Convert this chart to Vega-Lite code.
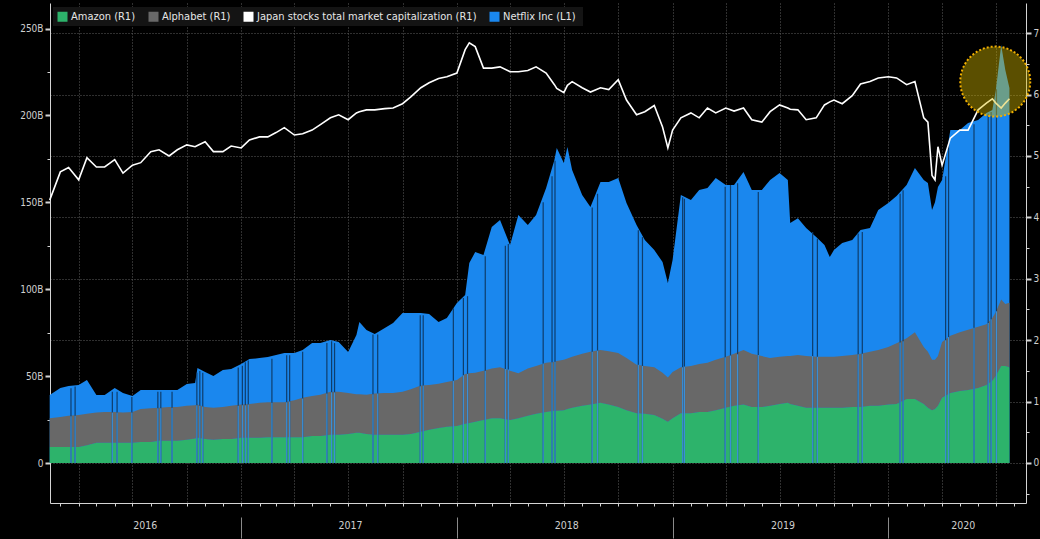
{
  "$schema": "https://vega.github.io/schema/vega-lite/v6.json",
  "width": 976,
  "height": 500,
  "autosize": {"type": "none"},
  "padding": {"left": 50, "top": 3, "right": 14, "bottom": 36},
  "background": "#000000",
  "config": {
    "view": {"stroke": null},
    "font": "DejaVu Sans Condensed",
    "axis": {
      "labelFont": "DejaVu Sans Condensed",
      "labelFontSize": 10,
      "labelColor": "#cfcfcf",
      "domainColor": "#d4d4d4",
      "tickColor": "#d4d4d4",
      "gridColor": "#5e5e5e",
      "gridDash": [1, 2],
      "gridWidth": 1
    },
    "legend": {
      "orient": "none",
      "legendX": 3,
      "legendY": 4,
      "direction": "horizontal",
      "fillColor": "#141414",
      "padding": 4,
      "labelFont": "DejaVu Sans Condensed",
      "labelFontSize": 11,
      "labelColor": "#e6e6e6",
      "labelLimit": 0,
      "symbolType": "square",
      "symbolSize": 100,
      "symbolStrokeWidth": 0,
      "columnPadding": 12,
      "labelOffset": 3,
      "title": null
    }
  },
  "datasets": {
    "series": [
      {"date": "2016-02-12", "netflix": 39.1, "amazon": 0.26, "alphabet": 0.47, "japan": 4.28},
      {"date": "2016-03-01", "netflix": 43.2, "amazon": 0.26, "alphabet": 0.49, "japan": 4.74},
      {"date": "2016-03-15", "netflix": 44.3, "amazon": 0.26, "alphabet": 0.51, "japan": 4.81},
      {"date": "2016-04-01", "netflix": 44.9, "amazon": 0.26, "alphabet": 0.52, "japan": 4.61},
      {"date": "2016-04-15", "netflix": 47.8, "amazon": 0.29, "alphabet": 0.51, "japan": 4.97},
      {"date": "2016-05-01", "netflix": 39.1, "amazon": 0.33, "alphabet": 0.49, "japan": 4.82},
      {"date": "2016-05-15", "netflix": 39.1, "amazon": 0.33, "alphabet": 0.50, "japan": 4.82},
      {"date": "2016-06-01", "netflix": 43.2, "amazon": 0.33, "alphabet": 0.50, "japan": 4.94},
      {"date": "2016-06-15", "netflix": 40.3, "amazon": 0.33, "alphabet": 0.49, "japan": 4.72},
      {"date": "2016-07-01", "netflix": 38.5, "amazon": 0.33, "alphabet": 0.50, "japan": 4.85},
      {"date": "2016-07-15", "netflix": 42.0, "amazon": 0.34, "alphabet": 0.54, "japan": 4.89},
      {"date": "2016-08-01", "netflix": 42.0, "amazon": 0.34, "alphabet": 0.55, "japan": 5.07},
      {"date": "2016-08-15", "netflix": 42.0, "amazon": 0.36, "alphabet": 0.54, "japan": 5.10},
      {"date": "2016-09-01", "netflix": 42.0, "amazon": 0.36, "alphabet": 0.55, "japan": 5.00},
      {"date": "2016-09-15", "netflix": 42.0, "amazon": 0.36, "alphabet": 0.55, "japan": 5.10},
      {"date": "2016-10-01", "netflix": 45.5, "amazon": 0.38, "alphabet": 0.55, "japan": 5.18},
      {"date": "2016-10-15", "netflix": 46.0, "amazon": 0.40, "alphabet": 0.54, "japan": 5.15},
      {"date": "2016-10-19", "netflix": 54.7, "amazon": 0.41, "alphabet": 0.54, "japan": 5.17},
      {"date": "2016-11-01", "netflix": 52.4, "amazon": 0.39, "alphabet": 0.52, "japan": 5.23},
      {"date": "2016-11-15", "netflix": 50.1, "amazon": 0.38, "alphabet": 0.52, "japan": 5.07},
      {"date": "2016-12-01", "netflix": 53.5, "amazon": 0.39, "alphabet": 0.52, "japan": 5.07},
      {"date": "2016-12-15", "netflix": 54.1, "amazon": 0.39, "alphabet": 0.54, "japan": 5.16},
      {"date": "2017-01-01", "netflix": 57.0, "amazon": 0.41, "alphabet": 0.54, "japan": 5.13},
      {"date": "2017-01-15", "netflix": 59.8, "amazon": 0.41, "alphabet": 0.55, "japan": 5.26},
      {"date": "2017-02-01", "netflix": 60.4, "amazon": 0.41, "alphabet": 0.57, "japan": 5.31},
      {"date": "2017-02-15", "netflix": 61.0, "amazon": 0.42, "alphabet": 0.57, "japan": 5.31},
      {"date": "2017-03-01", "netflix": 62.1, "amazon": 0.42, "alphabet": 0.57, "japan": 5.38},
      {"date": "2017-03-15", "netflix": 63.3, "amazon": 0.42, "alphabet": 0.57, "japan": 5.46},
      {"date": "2017-04-01", "netflix": 63.3, "amazon": 0.42, "alphabet": 0.60, "japan": 5.34},
      {"date": "2017-04-15", "netflix": 65.0, "amazon": 0.42, "alphabet": 0.64, "japan": 5.36},
      {"date": "2017-05-01", "netflix": 69.0, "amazon": 0.44, "alphabet": 0.65, "japan": 5.42},
      {"date": "2017-05-15", "netflix": 69.0, "amazon": 0.44, "alphabet": 0.67, "japan": 5.51},
      {"date": "2017-06-01", "netflix": 70.8, "amazon": 0.46, "alphabet": 0.70, "japan": 5.62},
      {"date": "2017-06-15", "netflix": 69.6, "amazon": 0.46, "alphabet": 0.70, "japan": 5.67},
      {"date": "2017-07-01", "netflix": 63.9, "amazon": 0.47, "alphabet": 0.67, "japan": 5.59},
      {"date": "2017-07-15", "netflix": 73.6, "amazon": 0.49, "alphabet": 0.63, "japan": 5.70},
      {"date": "2017-07-20", "netflix": 81.1, "amazon": 0.49, "alphabet": 0.63, "japan": 5.72},
      {"date": "2017-08-01", "netflix": 76.5, "amazon": 0.47, "alphabet": 0.64, "japan": 5.75},
      {"date": "2017-08-15", "netflix": 74.2, "amazon": 0.46, "alphabet": 0.67, "japan": 5.75},
      {"date": "2017-09-01", "netflix": 77.7, "amazon": 0.46, "alphabet": 0.68, "japan": 5.77},
      {"date": "2017-09-15", "netflix": 80.6, "amazon": 0.46, "alphabet": 0.68, "japan": 5.78},
      {"date": "2017-10-01", "netflix": 86.3, "amazon": 0.46, "alphabet": 0.70, "japan": 5.85},
      {"date": "2017-10-15", "netflix": 86.3, "amazon": 0.47, "alphabet": 0.73, "japan": 5.96},
      {"date": "2017-11-01", "netflix": 86.3, "amazon": 0.51, "alphabet": 0.75, "japan": 6.11},
      {"date": "2017-11-15", "netflix": 85.7, "amazon": 0.54, "alphabet": 0.73, "japan": 6.19},
      {"date": "2017-12-01", "netflix": 81.1, "amazon": 0.57, "alphabet": 0.72, "japan": 6.26},
      {"date": "2017-12-15", "netflix": 83.4, "amazon": 0.59, "alphabet": 0.73, "japan": 6.29},
      {"date": "2018-01-01", "netflix": 92.1, "amazon": 0.60, "alphabet": 0.75, "japan": 6.35},
      {"date": "2018-01-15", "netflix": 96.7, "amazon": 0.64, "alphabet": 0.81, "japan": 6.73},
      {"date": "2018-01-22", "netflix": 115.1, "amazon": 0.65, "alphabet": 0.81, "japan": 6.84},
      {"date": "2018-02-01", "netflix": 121.4, "amazon": 0.67, "alphabet": 0.80, "japan": 6.78},
      {"date": "2018-02-15", "netflix": 119.7, "amazon": 0.70, "alphabet": 0.80, "japan": 6.43},
      {"date": "2018-03-01", "netflix": 135.8, "amazon": 0.73, "alphabet": 0.81, "japan": 6.43},
      {"date": "2018-03-15", "netflix": 139.8, "amazon": 0.73, "alphabet": 0.83, "japan": 6.45},
      {"date": "2018-04-01", "netflix": 125.4, "amazon": 0.70, "alphabet": 0.80, "japan": 6.37},
      {"date": "2018-04-15", "netflix": 142.7, "amazon": 0.73, "alphabet": 0.73, "japan": 6.37},
      {"date": "2018-05-01", "netflix": 136.9, "amazon": 0.77, "alphabet": 0.77, "japan": 6.39},
      {"date": "2018-05-15", "netflix": 142.7, "amazon": 0.80, "alphabet": 0.78, "japan": 6.45},
      {"date": "2018-06-01", "netflix": 158.2, "amazon": 0.83, "alphabet": 0.80, "japan": 6.35},
      {"date": "2018-06-15", "netflix": 174.3, "amazon": 0.85, "alphabet": 0.80, "japan": 6.16},
      {"date": "2018-06-19", "netflix": 181.2, "amazon": 0.85, "alphabet": 0.81, "japan": 6.10},
      {"date": "2018-07-01", "netflix": 172.6, "amazon": 0.86, "alphabet": 0.82, "japan": 6.03},
      {"date": "2018-07-07", "netflix": 181.8, "amazon": 0.88, "alphabet": 0.82, "japan": 6.15},
      {"date": "2018-07-15", "netflix": 168.6, "amazon": 0.90, "alphabet": 0.83, "japan": 6.21},
      {"date": "2018-08-01", "netflix": 154.2, "amazon": 0.93, "alphabet": 0.85, "japan": 6.11},
      {"date": "2018-08-15", "netflix": 147.3, "amazon": 0.95, "alphabet": 0.86, "japan": 6.04},
      {"date": "2018-09-01", "netflix": 161.7, "amazon": 0.98, "alphabet": 0.86, "japan": 6.11},
      {"date": "2018-09-15", "netflix": 161.7, "amazon": 0.95, "alphabet": 0.87, "japan": 6.08},
      {"date": "2018-10-01", "netflix": 164.0, "amazon": 0.91, "alphabet": 0.88, "japan": 6.24},
      {"date": "2018-10-15", "netflix": 149.6, "amazon": 0.86, "alphabet": 0.85, "japan": 5.91},
      {"date": "2018-11-01", "netflix": 136.9, "amazon": 0.81, "alphabet": 0.79, "japan": 5.67},
      {"date": "2018-11-15", "netflix": 128.3, "amazon": 0.80, "alphabet": 0.78, "japan": 5.72},
      {"date": "2018-12-01", "netflix": 122.6, "amazon": 0.78, "alphabet": 0.78, "japan": 5.82},
      {"date": "2018-12-15", "netflix": 115.6, "amazon": 0.72, "alphabet": 0.75, "japan": 5.47},
      {"date": "2018-12-24", "netflix": 103.6, "amazon": 0.67, "alphabet": 0.72, "japan": 5.13},
      {"date": "2019-01-01", "netflix": 116.8, "amazon": 0.73, "alphabet": 0.75, "japan": 5.42},
      {"date": "2019-01-15", "netflix": 154.2, "amazon": 0.81, "alphabet": 0.75, "japan": 5.62},
      {"date": "2019-02-01", "netflix": 151.3, "amazon": 0.81, "alphabet": 0.77, "japan": 5.70},
      {"date": "2019-02-15", "netflix": 157.1, "amazon": 0.83, "alphabet": 0.78, "japan": 5.62},
      {"date": "2019-03-01", "netflix": 158.2, "amazon": 0.83, "alphabet": 0.80, "japan": 5.78},
      {"date": "2019-03-15", "netflix": 164.0, "amazon": 0.86, "alphabet": 0.82, "japan": 5.70},
      {"date": "2019-04-01", "netflix": 160.0, "amazon": 0.90, "alphabet": 0.83, "japan": 5.78},
      {"date": "2019-04-15", "netflix": 160.0, "amazon": 0.93, "alphabet": 0.85, "japan": 5.73},
      {"date": "2019-05-01", "netflix": 167.4, "amazon": 0.95, "alphabet": 0.89, "japan": 5.78},
      {"date": "2019-05-15", "netflix": 157.1, "amazon": 0.91, "alphabet": 0.87, "japan": 5.59},
      {"date": "2019-06-01", "netflix": 157.1, "amazon": 0.91, "alphabet": 0.83, "japan": 5.55},
      {"date": "2019-06-15", "netflix": 162.8, "amazon": 0.93, "alphabet": 0.78, "japan": 5.72},
      {"date": "2019-07-01", "netflix": 166.9, "amazon": 0.96, "alphabet": 0.77, "japan": 5.83},
      {"date": "2019-07-15", "netflix": 162.8, "amazon": 0.98, "alphabet": 0.76, "japan": 5.78},
      {"date": "2019-07-19", "netflix": 138.1, "amazon": 0.96, "alphabet": 0.78, "japan": 5.76},
      {"date": "2019-08-01", "netflix": 140.9, "amazon": 0.93, "alphabet": 0.83, "japan": 5.75},
      {"date": "2019-08-15", "netflix": 135.2, "amazon": 0.90, "alphabet": 0.84, "japan": 5.59},
      {"date": "2019-09-01", "netflix": 130.0, "amazon": 0.90, "alphabet": 0.83, "japan": 5.62},
      {"date": "2019-09-15", "netflix": 125.4, "amazon": 0.90, "alphabet": 0.83, "japan": 5.83},
      {"date": "2019-09-24", "netflix": 118.5, "amazon": 0.90, "alphabet": 0.83, "japan": 5.88},
      {"date": "2019-10-01", "netflix": 122.6, "amazon": 0.90, "alphabet": 0.83, "japan": 5.91},
      {"date": "2019-10-15", "netflix": 126.6, "amazon": 0.90, "alphabet": 0.84, "japan": 5.85},
      {"date": "2019-11-01", "netflix": 128.3, "amazon": 0.91, "alphabet": 0.85, "japan": 5.98},
      {"date": "2019-11-15", "netflix": 134.1, "amazon": 0.91, "alphabet": 0.87, "japan": 6.17},
      {"date": "2019-12-01", "netflix": 135.2, "amazon": 0.93, "alphabet": 0.88, "japan": 6.21},
      {"date": "2019-12-15", "netflix": 145.6, "amazon": 0.93, "alphabet": 0.91, "japan": 6.27},
      {"date": "2020-01-01", "netflix": 149.6, "amazon": 0.95, "alphabet": 0.94, "japan": 6.29},
      {"date": "2020-01-15", "netflix": 153.6, "amazon": 0.96, "alphabet": 0.99, "japan": 6.27},
      {"date": "2020-02-01", "netflix": 160.0, "amazon": 1.04, "alphabet": 0.99, "japan": 6.16},
      {"date": "2020-02-15", "netflix": 169.7, "amazon": 1.04, "alphabet": 1.09, "japan": 6.21},
      {"date": "2020-03-01", "netflix": 162.8, "amazon": 0.96, "alphabet": 0.93, "japan": 5.62},
      {"date": "2020-03-08", "netflix": 161.1, "amazon": 0.90, "alphabet": 0.91, "japan": 5.55},
      {"date": "2020-03-15", "netflix": 145.6, "amazon": 0.86, "alphabet": 0.82, "japan": 4.68},
      {"date": "2020-03-20", "netflix": 150.0, "amazon": 0.88, "alphabet": 0.80, "japan": 4.61},
      {"date": "2020-03-25", "netflix": 158.8, "amazon": 0.93, "alphabet": 0.81, "japan": 5.15},
      {"date": "2020-04-01", "netflix": 162.8, "amazon": 1.06, "alphabet": 0.91, "japan": 4.85},
      {"date": "2020-04-15", "netflix": 191.6, "amazon": 1.14, "alphabet": 0.93, "japan": 5.29},
      {"date": "2020-05-01", "netflix": 191.6, "amazon": 1.17, "alphabet": 0.96, "japan": 5.42},
      {"date": "2020-05-15", "netflix": 195.6, "amazon": 1.19, "alphabet": 0.98, "japan": 5.42},
      {"date": "2020-06-01", "netflix": 197.4, "amazon": 1.22, "alphabet": 1.00, "japan": 5.75},
      {"date": "2020-06-15", "netflix": 201.4, "amazon": 1.27, "alphabet": 0.99, "japan": 5.86},
      {"date": "2020-06-25", "netflix": 203.1, "amazon": 1.34, "alphabet": 1.02, "japan": 5.93},
      {"date": "2020-07-01", "netflix": 214.6, "amazon": 1.42, "alphabet": 1.04, "japan": 5.86},
      {"date": "2020-07-10", "netflix": 240.5, "amazon": 1.58, "alphabet": 1.08, "japan": 5.78},
      {"date": "2020-07-17", "netflix": 226.1, "amazon": 1.58, "alphabet": 1.01, "japan": 5.86},
      {"date": "2020-07-24", "netflix": 215.8, "amazon": 1.56, "alphabet": 1.05, "japan": 5.93}
    ],
    "gaps": [
      {"date": "2016-03-19", "netflix": 43, "total": 0.76},
      {"date": "2016-03-26", "netflix": 44, "total": 0.77},
      {"date": "2016-05-28", "netflix": 41, "total": 0.82},
      {"date": "2016-06-05", "netflix": 41, "total": 0.82},
      {"date": "2016-06-30", "netflix": 38, "total": 0.82},
      {"date": "2016-08-13", "netflix": 41, "total": 0.89},
      {"date": "2016-08-18", "netflix": 41, "total": 0.89},
      {"date": "2016-09-06", "netflix": 41, "total": 0.90},
      {"date": "2016-10-18", "netflix": 52, "total": 0.94},
      {"date": "2016-10-23", "netflix": 53, "total": 0.93},
      {"date": "2016-10-28", "netflix": 52, "total": 0.92},
      {"date": "2016-12-27", "netflix": 55, "total": 0.93},
      {"date": "2017-01-03", "netflix": 56, "total": 0.94},
      {"date": "2017-01-08", "netflix": 58, "total": 0.94},
      {"date": "2017-01-13", "netflix": 59, "total": 0.95},
      {"date": "2017-02-22", "netflix": 60, "total": 0.98},
      {"date": "2017-03-19", "netflix": 62, "total": 0.99},
      {"date": "2017-03-24", "netflix": 62, "total": 1.00},
      {"date": "2017-04-15", "netflix": 64, "total": 1.05},
      {"date": "2017-05-26", "netflix": 69, "total": 1.13},
      {"date": "2017-06-03", "netflix": 70, "total": 1.15},
      {"date": "2017-06-08", "netflix": 69, "total": 1.15},
      {"date": "2017-08-12", "netflix": 74, "total": 1.12},
      {"date": "2017-08-20", "netflix": 74, "total": 1.13},
      {"date": "2017-10-31", "netflix": 85, "total": 1.25},
      {"date": "2017-11-05", "netflix": 85, "total": 1.26},
      {"date": "2017-12-26", "netflix": 89, "total": 1.34},
      {"date": "2018-01-12", "netflix": 95, "total": 1.43},
      {"date": "2018-01-19", "netflix": 96, "total": 1.45},
      {"date": "2018-02-18", "netflix": 119, "total": 1.50},
      {"date": "2018-03-24", "netflix": 125, "total": 1.53},
      {"date": "2018-03-29", "netflix": 126, "total": 1.52},
      {"date": "2018-05-27", "netflix": 150, "total": 1.62},
      {"date": "2018-06-11", "netflix": 165, "total": 1.64},
      {"date": "2018-06-16", "netflix": 174, "total": 1.65},
      {"date": "2018-08-18", "netflix": 147, "total": 1.81},
      {"date": "2018-08-27", "netflix": 155, "total": 1.83},
      {"date": "2018-11-04", "netflix": 134, "total": 1.60},
      {"date": "2018-11-11", "netflix": 130, "total": 1.58},
      {"date": "2019-01-18", "netflix": 153, "total": 1.56},
      {"date": "2019-01-21", "netflix": 152, "total": 1.57},
      {"date": "2019-03-31", "netflix": 159, "total": 1.72},
      {"date": "2019-04-09", "netflix": 160, "total": 1.75},
      {"date": "2019-04-21", "netflix": 161, "total": 1.77},
      {"date": "2019-05-26", "netflix": 156, "total": 1.76},
      {"date": "2019-08-26", "netflix": 133, "total": 1.74},
      {"date": "2019-09-03", "netflix": 129, "total": 1.73},
      {"date": "2019-11-11", "netflix": 132, "total": 1.77},
      {"date": "2019-11-18", "netflix": 133, "total": 1.78},
      {"date": "2020-01-21", "netflix": 155, "total": 1.96},
      {"date": "2020-01-26", "netflix": 157, "total": 1.98},
      {"date": "2020-04-07", "netflix": 165, "total": 2.00},
      {"date": "2020-04-12", "netflix": 185, "total": 2.05},
      {"date": "2020-05-25", "netflix": 195, "total": 2.20},
      {"date": "2020-06-18", "netflix": 201, "total": 2.28},
      {"date": "2020-06-23", "netflix": 202, "total": 2.34},
      {"date": "2020-07-02", "netflix": 215, "total": 2.47}
    ],
    "highlight": [
      {"date": "2020-06-30", "level": 219.5}
    ]
  },
  "layer": [
    {
      "data": {"name": "series"},
      "mark": {"type": "area"},
      "encoding": {
        "x": {
          "field": "date", "type": "temporal",
          "scale": {"domain": [{"year": 2016, "month": 2, "date": 12, "hours": 12}, {"year": 2020, "month": 8, "date": 21}]},
          "axis": {"orient": "bottom", "tickCount": {"interval": "month", "step": 1}, "labels": false, "grid": false, "tickSize": 3, "title": null}
        },
        "y": {
          "field": "netflix", "type": "quantitative",
          "scale": {"domain": [-23, 264.7], "nice": false, "zero": false},
          "axis": {"orient": "left", "values": [0, 50, 100, 150, 200, 250], "labelExpr": "datum.value == 0 ? '0' : datum.value + 'B'", "grid": false, "tickSize": 5, "tickWidth": 2, "labelPadding": 2, "title": null}
        },
        "color": {
          "datum": "netflix", "type": "nominal",
          "scale": {"domain": ["amazon", "alphabet", "japan", "netflix"], "range": ["#2db36b", "#686868", "#ffffff", "#1a87ee"]},
          "legend": {"labelExpr": "datum.value == 'amazon' ? 'Amazon (R1)' : datum.value == 'alphabet' ? 'Alphabet (R1)' : datum.value == 'japan' ? 'Japan stocks total market capitalization (R1)' : 'Netflix Inc  (L1)'"}
        }
      }
    },
    {
      "data": {"name": "series"},
      "transform": [{"fold": ["amazon", "alphabet"], "as": ["key", "val"]}],
      "mark": {"type": "area"},
      "encoding": {
        "x": {
          "field": "date", "type": "temporal",
          "axis": {"orient": "bottom", "tickCount": {"interval": "month", "step": 3}, "labels": false, "ticks": false, "domain": false, "grid": true, "title": null}
        },
        "y": {
          "field": "val", "type": "quantitative", "stack": "zero",
          "scale": {"domain": [-0.652, 7.49], "nice": false, "zero": false},
          "axis": {"orient": "right", "values": [0, 1, 2, 3, 4, 5, 6, 7], "grid": true, "tickSize": 5, "tickWidth": 2, "labelPadding": 2, "title": null}
        },
        "color": {"field": "key", "type": "nominal"},
        "order": {"field": "key", "sort": "descending"}
      }
    },
    {
      "data": {"name": "gaps"},
      "mark": {"type": "rule", "color": "#0e3d6c", "strokeWidth": 1.2},
      "encoding": {
        "x": {"field": "date", "type": "temporal", "axis": null},
        "y": {"field": "netflix", "type": "quantitative", "scale": {"domain": [-23, 264.7], "nice": false, "zero": false}, "axis": null},
        "y2": {"datum": 0}
      }
    },
    {
      "data": {"name": "gaps"},
      "mark": {"type": "rule", "color": "#3b8fd6", "strokeWidth": 1.2},
      "encoding": {
        "x": {"field": "date", "type": "temporal", "axis": null},
        "y": {"field": "total", "type": "quantitative", "scale": {"domain": [-0.652, 7.49], "nice": false, "zero": false}, "axis": null},
        "y2": {"datum": 0}
      }
    },
    {
      "data": {"name": "series"},
      "mark": {"type": "line", "strokeWidth": 1.6},
      "encoding": {
        "x": {
          "field": "date", "type": "temporal",
          "axis": {"orient": "bottom", "tickCount": {"interval": "year", "step": 1}, "labels": false, "domain": false, "grid": false, "offset": 14, "tickSize": 21, "tickColor": "#8a8a8a", "title": null}
        },
        "y": {
          "field": "japan", "type": "quantitative",
          "scale": {"domain": [-0.652, 7.49], "nice": false, "zero": false},
          "axis": {"orient": "right", "values": [-0.5, 0.5, 1.5, 2.5, 3.5, 4.5, 5.5, 6.5], "labels": false, "domain": false, "grid": false, "tickSize": 3, "title": null}
        },
        "color": {"datum": "japan", "type": "nominal"}
      }
    },
    {
      "data": {"name": "highlight"},
      "mark": {"type": "point", "shape": "circle", "filled": true, "size": 4900, "fill": "#d8bc00", "fillOpacity": 0.42, "stroke": "#f2b000", "strokeWidth": 2, "strokeDash": [2, 2], "strokeOpacity": 1, "opacity": 1},
      "encoding": {
        "x": {
          "field": "date", "type": "temporal",
          "axis": {
            "orient": "bottom",
            "values": [
              {"year": 2016, "month": 7, "date": 22},
              {"year": 2017, "month": 7, "date": 4},
              {"year": 2018, "month": 7, "date": 5},
              {"year": 2019, "month": 7, "date": 6},
              {"year": 2020, "month": 5, "date": 6}
            ],
            "format": "%Y", "labelPadding": 17, "tickSize": 0, "ticks": false, "domain": false, "grid": false, "labelFontSize": 10.5, "title": null
          }
        },
        "y": {
          "field": "level", "type": "quantitative",
          "scale": {"domain": [-23, 264.7], "nice": false, "zero": false},
          "axis": {"orient": "left", "values": [25, 75, 125, 175, 225], "labels": false, "domain": false, "grid": false, "tickSize": 3, "title": null}
        }
      }
    }
  ],
  "resolve": {"scale": {"y": "independent"}, "axis": {"x": "independent", "y": "independent"}}
}
